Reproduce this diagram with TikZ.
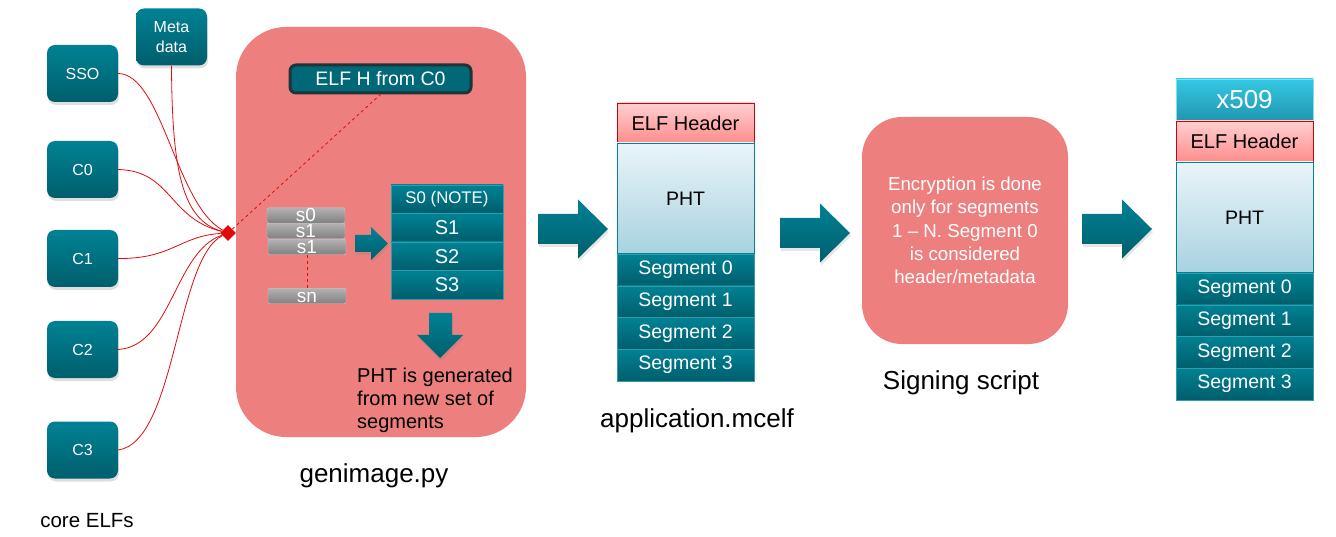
\documentclass[tikz,border=0pt]{standalone}
\usepackage{fontspec}
\setmainfont{Liberation Sans}
\usetikzlibrary{shapes.geometric,shadows}
\definecolor{tealtop}{RGB}{0,130,148}
\definecolor{tealbot}{RGB}{0,94,108}
\definecolor{stagepink}{RGB}{237,127,127}
\definecolor{linered}{RGB}{225,10,10}
\definecolor{graytop}{RGB}{178,178,178}
\definecolor{graybot}{RGB}{128,128,128}
\definecolor{hdrtop}{RGB}{255,208,208}
\definecolor{hdrbot}{RGB}{255,140,140}
\definecolor{phttop}{RGB}{234,244,249}
\definecolor{phtbot}{RGB}{168,210,224}
\definecolor{certtop}{RGB}{52,200,228}
\definecolor{certbot}{RGB}{32,150,176}
\definecolor{darkedge}{RGB}{28,52,58}
\begin{document}
\begin{tikzpicture}[x=1pt, y=-1pt,
    corebox/.style={rounded corners=8pt, top color=tealtop, bottom color=tealbot, text=white,
        minimum width=71pt, minimum height=57pt, inner sep=0pt, align=center,
        font=\fontsize{16}{20}\selectfont,
        drop shadow={shadow xshift=1pt, shadow yshift=-3pt, opacity=0.25}},
    stagebox/.style={fill=stagepink, inner sep=0pt},
    wire/.style={draw=linered, line width=0.8pt},
    graybox/.style={rounded corners=2pt, top color=graytop, bottom color=graybot, draw=graytop!70!white,
        text=white, minimum width=78pt, minimum height=15.5pt, inner sep=0pt,
        text height=13pt, text depth=0pt, font=\fontsize{19}{19}\selectfont},
    tealrow/.style={top color=tealtop, bottom color=tealbot, draw=tealtop!80!white, line width=0.4pt,
        text=white, inner sep=0pt},
    segrow/.style={tealrow, minimum width=137pt, minimum height=31.75pt, font=\fontsize{19.5}{19.5}\selectfont},
    hdrbox/.style={top color=hdrtop, bottom color=hdrbot, draw=linered!85!black, line width=0.8pt,
        minimum width=137pt, inner sep=0pt, font=\fontsize{20}{20}\selectfont},
    phtbox/.style={top color=phttop, bottom color=phtbot, draw=tealtop, line width=0.6pt,
        minimum width=137pt, minimum height=111pt, inner sep=0pt, font=\fontsize{19.5}{19.5}\selectfont},
    blockarrow/.style={top color=tealtop, bottom color=tealbot,
        drop shadow={shadow xshift=1pt, shadow yshift=-3pt, opacity=0.2}},
    biglbl/.style={font=\fontsize{26}{26}\selectfont}]

    \useasboundingbox (0,0) rectangle (1336,537);

    % core ELFs
    \node[corebox] (meta) at (171.5,37) {Meta\\data};
    \node[corebox] (sso) at (82.5,73.5) {SSO};
    \node[corebox] (c0) at (82.5,169.5) {C0};
    \node[corebox] (c1) at (82.5,258.5) {C1};
    \node[corebox] (c2) at (82.5,349.5) {C2};
    \node[corebox] (c3) at (82.5,450) {C3};
    \node[font=\fontsize{20.5}{22}\selectfont] (corelbl) at (87,521) {core ELFs};

    % genimage.py
    \node[stagebox, minimum width=290pt, minimum height=410pt, rounded corners=50pt] (genbox) at (381,232) {};
    \node[biglbl] (genlbl) at (374,476) {genimage.py};
    \node[rounded corners=6pt, fill=tealtop!80!black, draw=darkedge, line width=3pt, text=white,
        minimum width=181pt, minimum height=28pt, inner sep=0pt, font=\fontsize{19.5}{20}\selectfont] (elfh) at (380.5,79) {ELF H from C0};
    \node[diamond, fill=linered, inner sep=0pt, minimum size=16pt] (hub) at (228,233) {};

    \draw[wire] (meta.south) .. controls (172,170) and (182,220) .. (hub);
    \draw[wire] (sso.east) .. controls (162,74) and (176,205) .. (hub);
    \draw[wire] (c0.east) .. controls (172,171) and (168,218) .. (hub);
    \draw[wire] (c1.east) .. controls (172,259) and (180,236) .. (hub);
    \draw[wire] (c2.east) .. controls (172,346) and (174,252) .. (hub);
    \draw[wire] (c3.east) .. controls (176,442) and (176,258) .. (hub);
    \draw[wire, dashed] (hub) -- (elfh.south);

    % segments taken from the core ELFs
    \node[graybox] (s0) at (306,215.5) {s0};
    \node[graybox] (s1a) at (306,231) {s1};
    \node[graybox] (s1b) at (307,247) {s1};
    \node[graybox] (sn) at (307,296) {sn};
    \draw[wire, dashed] (s1b.south) -- (sn.north);

    \path[blockarrow] (355,235) -- (371,235) -- (371,227) -- (388,243.5) -- (371,260) -- (371,252) -- (355,252) -- cycle;

    \node[tealrow, minimum width=112pt, minimum height=28.5pt, font=\fontsize{16.8}{16.8}\selectfont] (note) at (447,199.25) {S0 (NOTE)};
    \foreach \i in {1,2,3}
        \node[tealrow, minimum width=112pt, minimum height=28.5pt, font=\fontsize{20}{20}\selectfont] (sg\i) at (447,{199.25+28.5*\i}) {S\i};

    \path[blockarrow] (429,313) -- (452,313) -- (452,335) -- (463,335) -- (440,358) -- (417,335) -- (429,335) -- cycle;
    \node[anchor=north west, inner sep=0pt, align=left, font=\fontsize{20}{23}\selectfont] (phtnote) at (357,368) {PHT is generated\\from new set of\\segments};

    % stage arrows
    \foreach \ax/\ay in {538/229, 780/233, 1082/229}
        \path[blockarrow] (\ax,{\ay-15}) -- ++(40,0) -- ++(0,-14.5) -- ++(30,29.5) -- ++(-30,29.5) -- ++(0,-14.5) -- ++(-40,0) -- cycle;

    % application.mcelf
    \node[hdrbox, minimum height=40pt] (apphdr) at (685.5,123) {ELF Header};
    \node[phtbox] (apppht) at (685.5,198.5) {PHT};
    \foreach \i in {0,...,3}
        \node[segrow] (appseg\i) at (685.5,{269.875+31.75*\i}) {Segment \i};
    \node[biglbl] (applbl) at (697,421) {application.mcelf};

    % signing script
    \node[stagebox, minimum width=206pt, minimum height=227pt, rounded corners=40pt, text=white,
        align=center, font=\fontsize{18.7}{23.3}\selectfont] (signbox) at (965,230.5)
        {Encryption is done\\only for segments\\1 – N. Segment 0\\is considered\\header/metadata};
    \node[biglbl] (signlbl) at (961,383) {Signing script};

    % signed image
    \node[top color=certtop, bottom color=certbot, draw=certtop!60!white, text=white, minimum width=137pt,
        minimum height=42pt, inner sep=0pt, font=\fontsize{26}{26}\selectfont] (cert) at (1244.5,100) {x509};
    \node[hdrbox, minimum height=41pt] (sighdr) at (1244.5,141.5) {ELF Header};
    \node[phtbox] (sigpht) at (1244.5,217.5) {PHT};
    \foreach \i in {0,...,3}
        \node[segrow] (sigseg\i) at (1244.5,{288.875+31.75*\i}) {Segment \i};
\end{tikzpicture}
\end{document}
